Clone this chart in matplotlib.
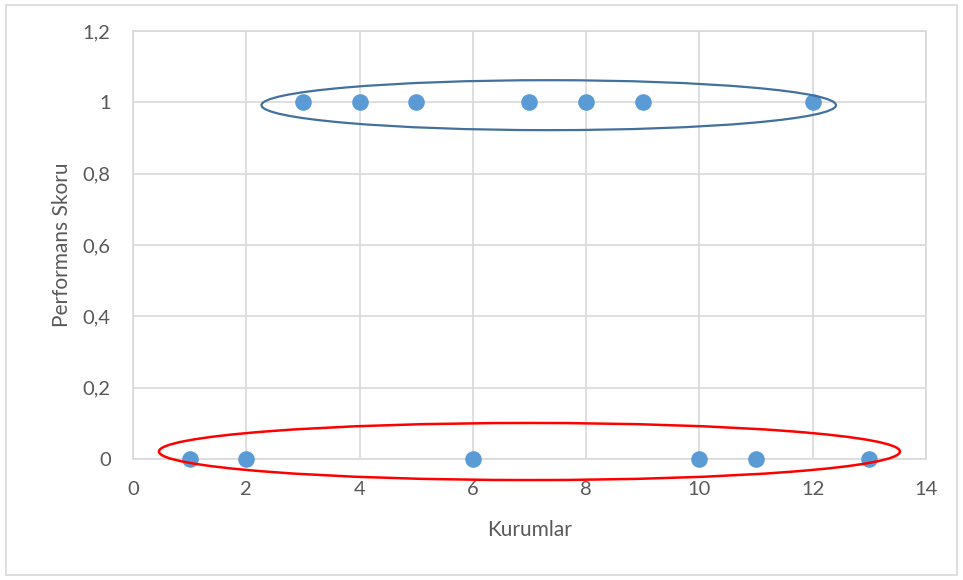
# plot.py
# Performance score per institution, with the two groups circled.

import matplotlib
matplotlib.use("Agg")
import matplotlib.pyplot as plt
from matplotlib.patches import Ellipse, Rectangle

kurumlar = [1, 2, 3, 4, 5, 6, 7, 8, 9, 10, 11, 12, 13]
skorlar = [0, 0, 1, 1, 1, 0, 1, 1, 1, 0, 0, 1, 0]

x_ticks = [0, 2, 4, 6, 8, 10, 12, 14]
y_ticks = [0, 0.2, 0.4, 0.6, 0.8, 1.0, 1.2]
y_tick_labels = ["0", "0,2", "0,4", "0,6", "0,8", "1", "1,2"]

TEXT = "#595959"
GRID = "#D9D9D9"

plt.rcParams["font.family"] = ["Lato", "DejaVu Sans"]

fig = plt.figure(figsize=(9.63, 5.8), dpi=100)
ax = fig.add_axes([0.138, 0.2086, 0.8236, 0.738])

ax.scatter(kurumlar, skorlar, s=120, color="#5B9BD5", zorder=3, clip_on=False)

# group outlines
ax.add_patch(Ellipse((7.34, 0.992), 10.14, 0.14, fill=False,
                     edgecolor="#41719C", lw=1.6, zorder=4, clip_on=False))
ax.add_patch(Ellipse((7.0, 0.021), 13.08, 0.16, fill=False,
                     edgecolor="#FF0000", lw=1.8, zorder=4, clip_on=False))

ax.set_xlim(0, 14)
ax.set_ylim(0, 1.2)
ax.set_xticks(x_ticks)
ax.set_yticks(y_ticks)
ax.set_yticklabels(y_tick_labels)
ax.grid(True, color=GRID, lw=1.2)
ax.set_axisbelow(True)
for sp in ax.spines.values():
    sp.set_color(GRID)
    sp.set_linewidth(1.2)
ax.tick_params(length=0, labelsize=14.5, labelcolor=TEXT)
ax.tick_params(axis="x", pad=16)
ax.tick_params(axis="y", pad=16)

ax.set_xlabel("Kurumlar", fontsize=15, color=TEXT, labelpad=16)
ax.set_ylabel("Performans Skoru", fontsize=15, color=TEXT, labelpad=8)

# chart area border
fig.patches.append(Rectangle((0.006, 0.009), 0.988, 0.982, transform=fig.transFigure,
                             fill=False, edgecolor=GRID, lw=1.2))

fig.savefig("out.png", dpi=100)
